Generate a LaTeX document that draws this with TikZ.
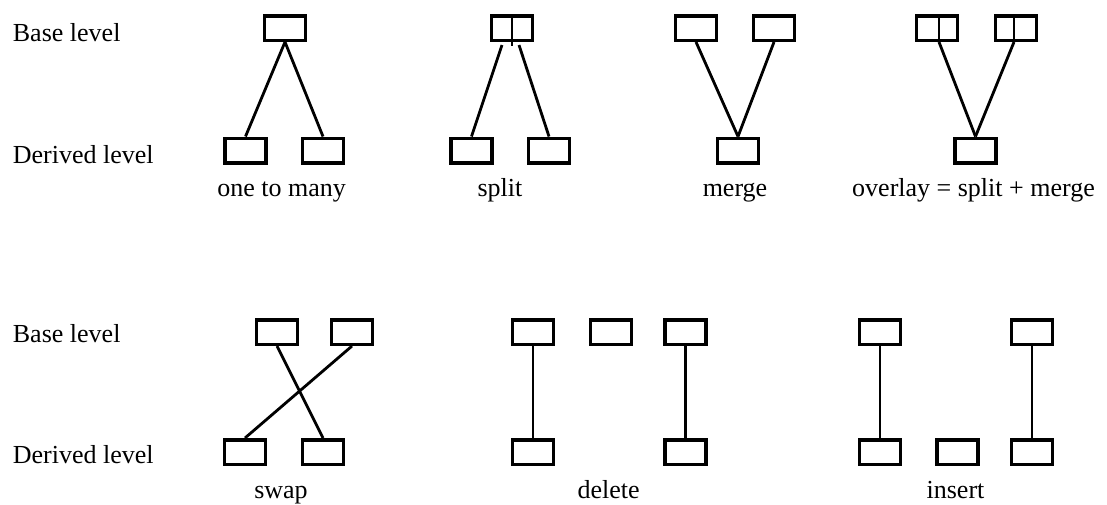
\documentclass[tikz,border=0pt]{standalone}
\usepackage{fontspec}
\setmainfont{Liberation Serif}
\tikzset{
  unitbox/.style={draw, line width=3.5pt, minimum width=41pt, minimum height=24.5pt, inner sep=0pt},
  link/.style={line width=2.8pt},
  divider/.style={line width=2.8pt},
  lbl/.style={inner sep=0pt, anchor=base west, font=\fontsize{26}{31}\selectfont},
  caption/.style={inner sep=0pt, anchor=base, font=\fontsize{26}{31}\selectfont}
}
\begin{document}
\begin{tikzpicture}[x=1pt, y=-1pt]
\useasboundingbox (0,0) rectangle (1107,504);

% row labels
\node[lbl] (baseA) at (12.7,41) {Base level};
\node[lbl] (derA) at (12.7,163) {Derived level};
\node[lbl] (baseB) at (12.7,342) {Base level};
\node[lbl] (derB) at (12.7,463) {Derived level};

% one to many
\node[unitbox] (om) at (285,28) {};
\node[unitbox] (om1) at (245.5,150.5) {};
\node[unitbox] (om2) at (323,150.5) {};
\draw[link] (om.south) -- (om1.north);
\draw[link] (om.south) -- (om2.north);
\node[caption] (capom) at (281.7,196) {one to many};

% split
\node[unitbox] (sp) at (512,28) {};
\coordinate (spd) at ([yshift=-4pt]sp.south);
\draw[divider] (sp.north) -- (spd);
\coordinate (spl) at ([xshift=-10pt,yshift=-3pt]sp.south);
\coordinate (spr) at ([xshift=7pt,yshift=-3pt]sp.south);
\node[unitbox] (sp1) at (471.5,150.5) {};
\node[unitbox] (sp2) at (549,150.5) {};
\draw[link] (spl) -- (sp1.north);
\draw[link] (spr) -- (sp2.north);
\node[caption] (capsp) at (500,196) {split};

% merge
\node[unitbox] (mg1) at (696,28) {};
\node[unitbox] (mg2) at (774,28) {};
\node[unitbox] (mg) at (738,150.5) {};
\draw[link] (mg1.south) -- (mg.north);
\draw[link] (mg2.south) -- (mg.north);
\node[caption] (capmg) at (735,196) {merge};

% overlay
\node[unitbox] (ov1) at (937,28) {};
\node[unitbox] (ov2) at (1016,28) {};
\coordinate (ov1d) at ([xshift=2pt]ov1.south);
\coordinate (ov2d) at ([xshift=-2pt]ov2.south);
\draw[divider] ([xshift=2pt]ov1.north) -- (ov1d);
\draw[divider] ([xshift=-2pt]ov2.north) -- (ov2d);
\node[unitbox] (ov) at (975.5,150.5) {};
\draw[link] (ov1d) -- (ov.north);
\draw[link] (ov2d) -- (ov.north);
\node[lbl] (capov) at (852,196) {overlay = split + merge};

% swap
\node[unitbox] (sw1) at (277,332) {};
\node[unitbox] (sw2) at (352,332) {};
\node[unitbox] (sw3) at (245,452) {};
\node[unitbox] (sw4) at (323,452) {};
\draw[link] (sw1.south) -- (sw4.north);
\draw[link] (sw2.south) -- (sw3.north);
\node[caption] (capsw) at (281,498) {swap};

% delete
\node[unitbox] (de1) at (533,332) {};
\node[unitbox] (de2) at (611,332) {};
\node[unitbox] (de3) at (685.5,332) {};
\node[unitbox] (de4) at (533,452) {};
\node[unitbox] (de5) at (685.5,452) {};
\draw[link] (de1.south) -- (de4.north);
\draw[link] (de3.south) -- (de5.north);
\node[caption] (capde) at (608.7,498) {delete};

% insert
\node[unitbox] (in1) at (880,332) {};
\node[unitbox] (in2) at (1032,332) {};
\node[unitbox] (in3) at (880,452) {};
\node[unitbox] (in4) at (957.5,452) {};
\node[unitbox] (in5) at (1032,452) {};
\draw[link] (in1.south) -- (in3.north);
\draw[link] (in2.south) -- (in5.north);
\node[caption] (capin) at (955.5,498) {insert};
\end{tikzpicture}
\end{document}
